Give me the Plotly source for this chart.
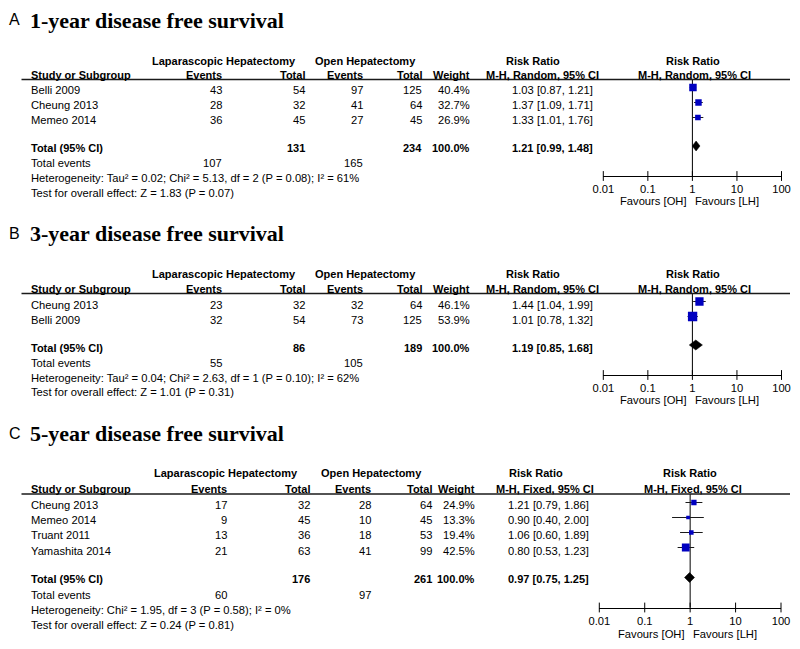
import plotly.graph_objects as go

# ---------------- DATA ----------------
# Panel A : 1-year disease free survival (M-H, Random)
A_STUDY = ["Belli 2009", "Cheung 2013", "Memeo 2014"]
A_LH_EVENTS = [43, 28, 36]
A_LH_TOTAL = [54, 32, 45]
A_OH_EVENTS = [97, 41, 27]
A_OH_TOTAL = [125, 64, 45]
A_WEIGHT = [40.4, 32.7, 26.9]
A_RR = [1.03, 1.37, 1.33]
A_LO = [0.87, 1.09, 1.01]
A_HI = [1.21, 1.71, 1.76]
A_POOLED = [1.21, 0.99, 1.48]
A_SUM_TOTAL = [131, 234]
A_SUM_EVENTS = [107, 165]
A_HET = "Heterogeneity: Tau² = 0.02; Chi² = 5.13, df = 2 (P = 0.08); I² = 61%"
A_TEST = "Test for overall effect: Z = 1.83 (P = 0.07)"

# Panel B : 3-year disease free survival (M-H, Random)
B_STUDY = ["Cheung 2013", "Belli 2009"]
B_LH_EVENTS = [23, 32]
B_LH_TOTAL = [32, 54]
B_OH_EVENTS = [32, 73]
B_OH_TOTAL = [64, 125]
B_WEIGHT = [46.1, 53.9]
B_RR = [1.44, 1.01]
B_LO = [1.04, 0.78]
B_HI = [1.99, 1.32]
B_POOLED = [1.19, 0.85, 1.68]
B_SUM_TOTAL = [86, 189]
B_SUM_EVENTS = [55, 105]
B_HET = "Heterogeneity: Tau² = 0.04; Chi² = 2.63, df = 1 (P = 0.10); I² = 62%"
B_TEST = "Test for overall effect: Z = 1.01 (P = 0.31)"

# Panel C : 5-year disease free survival (M-H, Fixed)
C_STUDY = ["Cheung 2013", "Memeo 2014", "Truant 2011", "Yamashita 2014"]
C_LH_EVENTS = [17, 9, 13, 21]
C_LH_TOTAL = [32, 45, 36, 63]
C_OH_EVENTS = [28, 10, 18, 41]
C_OH_TOTAL = [64, 45, 53, 99]
C_WEIGHT = [24.9, 13.3, 19.4, 42.5]
C_RR = [1.21, 0.90, 1.06, 0.80]
C_LO = [0.79, 0.40, 0.60, 0.53]
C_HI = [1.86, 2.00, 1.89, 1.23]
C_POOLED = [0.97, 0.75, 1.25]
C_SUM_TOTAL = [176, 261]
C_SUM_EVENTS = [60, 97]
C_HET = "Heterogeneity: Chi² = 1.95, df = 3 (P = 0.58); I² = 0%"
C_TEST = "Test for overall effect: Z = 0.24 (P = 0.81)"

LETTERS = ["A", "B", "C"]
TITLES = ["1-year disease free survival", "3-year disease free survival", "5-year disease free survival"]
METHODS = ["M-H, Random, 95% CI", "M-H, Random, 95% CI", "M-H, Fixed, 95% CI"]
TOTAL_WEIGHT = "100.0%"
TICK_VALS = [0.01, 0.1, 1, 10, 100]
TICK_TEXT = ["0.01", "0.1", "1", "10", "100"]
NULL_EFFECT = 1
FAVOURS = ["Favours [OH]", "Favours [LH]"]

# ---------------- LAYOUT HELPERS ----------------
W, H = 800, 649
OFF_X, OFF_Y = 8, 8          # page offset of the plot div
SANS = "Liberation Sans, Arial, sans-serif"
SERIF = "Liberation Serif, Times New Roman, serif"
BLUE = "#0000c0"
INK = "#000000"
FS = 11.2    # regular text size
FB = 11      # bold text size


def px(x):
    return (x - OFF_X) / W


def py(y):
    return 1 - (y - OFF_Y) / H


annotations = []
shapes = []


def txt(x, y, s, anchor="left", bold=False, size=None, family=SANS):
    if size is None:
        size = FB if bold else FS
    annotations.append(dict(
        x=px(x), y=py(y), xref="paper", yref="paper",
        text=f"<b>{s}</b>" if bold else s, showarrow=False,
        xanchor=anchor, yanchor="middle", borderpad=0,
        font=dict(size=size, family=family, color=INK)))


panels = [
    dict(study=A_STUDY, lhe=A_LH_EVENTS, lht=A_LH_TOTAL, ohe=A_OH_EVENTS, oht=A_OH_TOTAL,
         w=A_WEIGHT, rr=A_RR, lo=A_LO, hi=A_HI, pooled=A_POOLED, st=A_SUM_TOTAL,
         se=A_SUM_EVENTS, het=A_HET, test=A_TEST,
         letter_y=19.5, title_y=20.3, h1=60.5, h2=75, line=79.5, row0=90, step=15, total=148,
         tev=163.5, hety=178.5, testy=193, m0=87.5, gap=1.9, axis=176, fav=201,
         cols=dict(lhe=222.7, lht=305.7, ohe=364, oht=423, w=470.5, rr=594,
                   lap=224, open=365.5, rrh=533, mh=542, frr=692.5, fmh=694.5),
         fx=(603.3, 781.5)),
    dict(study=B_STUDY, lhe=B_LH_EVENTS, lht=B_LH_TOTAL, ohe=B_OH_EVENTS, oht=B_OH_TOTAL,
         w=B_WEIGHT, rr=B_RR, lo=B_LO, hi=B_HI, pooled=B_POOLED, st=B_SUM_TOTAL,
         se=B_SUM_EVENTS, het=B_HET, test=B_TEST,
         letter_y=233.5, title_y=233.8, h1=273.5, h2=289, line=293.5, row0=304.5, step=15,
         total=347.5, tev=363, hety=378, testy=392.5, m0=301.5, gap=1.9, axis=375, fav=399.5,
         cols=dict(lhe=222.7, lht=305.7, ohe=364, oht=423, w=470.5, rr=594,
                   lap=224, open=365.5, rrh=533, mh=542, frr=692.5, fmh=694.5),
         fx=(603.3, 781.5)),
    dict(study=C_STUDY, lhe=C_LH_EVENTS, lht=C_LH_TOTAL, ohe=C_OH_EVENTS, oht=C_OH_TOTAL,
         w=C_WEIGHT, rr=C_RR, lo=C_LO, hi=C_HI, pooled=C_POOLED, st=C_SUM_TOTAL,
         se=C_SUM_EVENTS, het=C_HET, test=C_TEST,
         letter_y=433.5, title_y=433.8, h1=473, h2=488.5, line=494, row0=505, step=15.2,
         total=579, tev=595, hety=610, testy=625, m0=502.5, gap=2.0, axis=607.5, fav=634,
         cols=dict(lhe=227.7, lht=310.7, ohe=372, oht=433, w=475.5, rr=590,
                   lap=226, open=371.7, rrh=536, mh=545, frr=690, fmh=693),
         fx=(599.3, 781)),
]

fig = go.Figure()
layout_axes = {}

for k, p in enumerate(panels):
    n = len(p["study"])
    c = p["cols"]
    xr = "x" if k == 0 else f"x{k + 1}"
    yr = "y" if k == 0 else f"y{k + 1}"
    xname = "xaxis" if k == 0 else f"xaxis{k + 1}"
    yname = "yaxis" if k == 0 else f"yaxis{k + 1}"

    # ---- titles ----
    txt(8, p["letter_y"], LETTERS[k], size=16)
    txt(29, p["title_y"], TITLES[k], bold=True, size=22, family=SERIF)

    # ---- header rows ----
    txt(c["lap"], p["h1"], "Laparascopic Hepatectomy", anchor="center", bold=True)
    txt(c["open"], p["h1"], "Open Hepatectomy", anchor="center", bold=True)
    txt(c["rrh"], p["h1"], "Risk Ratio", anchor="center", bold=True)
    txt(c["frr"], p["h1"], "Risk Ratio", anchor="center", bold=True)
    txt(30, p["h2"], "Study or Subgroup", bold=True)
    txt(c["lhe"], p["h2"], "Events", anchor="right", bold=True)
    txt(c["lht"], p["h2"], "Total", anchor="right", bold=True)
    txt(c["ohe"], p["h2"], "Events", anchor="right", bold=True)
    txt(c["oht"], p["h2"], "Total", anchor="right", bold=True)
    txt(c["w"], p["h2"], "Weight", anchor="right", bold=True)
    txt(c["mh"], p["h2"], METHODS[k], anchor="center", bold=True)
    txt(c["fmh"], p["h2"], METHODS[k], anchor="center", bold=True)
    shapes.append(dict(type="line", xref="paper", yref="paper",
                       x0=px(21.5), x1=px(790), y0=py(p["line"]), y1=py(p["line"]),
                       line=dict(color="#1a1a1a", width=1.3)))

    # ---- study rows ----
    for i in range(n):
        y = p["row0"] + p["step"] * i
        txt(30, y, p["study"][i])
        txt(c["lhe"], y, str(p["lhe"][i]), anchor="right")
        txt(c["lht"], y, str(p["lht"][i]), anchor="right")
        txt(c["ohe"], y, str(p["ohe"][i]), anchor="right")
        txt(c["oht"], y, str(p["oht"][i]), anchor="right")
        txt(c["w"], y, f"{p['w'][i]:.1f}%", anchor="right")
        txt(c["rr"], y, f"{p['rr'][i]:.2f} [{p['lo'][i]:.2f}, {p['hi'][i]:.2f}]", anchor="right")

    # ---- totals ----
    est, plo, phi = p["pooled"]
    txt(30, p["total"], "Total (95% CI)", bold=True)
    txt(c["lht"], p["total"], str(p["st"][0]), anchor="right", bold=True)
    txt(c["oht"], p["total"], str(p["st"][1]), anchor="right", bold=True)
    txt(c["w"], p["total"], TOTAL_WEIGHT, anchor="right", bold=True)
    txt(c["rr"], p["total"], f"{est:.2f} [{plo:.2f}, {phi:.2f}]", anchor="right", bold=True)
    txt(30, p["tev"], "Total events")
    txt(c["lhe"], p["tev"], str(p["se"][0]), anchor="right")
    txt(c["ohe"], p["tev"], str(p["se"][1]), anchor="right")
    txt(30, p["hety"], p["het"])
    txt(30, p["testy"], p["test"])

    # ---- forest plot ----
    ys = list(range(n))
    ytot = n - 1 + p["gap"]
    mstep = 15.0
    y_top = (p["line"] - p["m0"]) / mstep
    y_bot = (p["axis"] - p["m0"]) / mstep

    ci_x, ci_y = [], []
    for i in range(n):
        ci_x += [p["lo"][i], p["hi"][i], None]
        ci_y += [ys[i], ys[i], None]
    fig.add_trace(go.Scatter(x=ci_x, y=ci_y, mode="lines", xaxis=xr, yaxis=yr,
                             line=dict(color="#1a1a1a", width=1), showlegend=False,
                             hoverinfo="skip"))
    fig.add_trace(go.Scatter(x=p["rr"], y=ys, mode="markers", xaxis=xr, yaxis=yr,
                             marker=dict(symbol="square", color=BLUE, opacity=1,
                                         size=[1.9 + 0.138 * w for w in p["w"]],
                                         line=dict(width=0)),
                             showlegend=False))
    dh = 5.0 / mstep
    fig.add_trace(go.Scatter(x=[plo, est, phi, est, plo], y=[ytot, ytot - dh, ytot, ytot + dh, ytot],
                             mode="lines", fill="toself", fillcolor="black",
                             line=dict(color="black", width=0.5), xaxis=xr, yaxis=yr,
                             showlegend=False))
    fig.add_trace(go.Scatter(x=TICK_VALS, y=[y_bot] * len(TICK_VALS), mode="markers",
                             xaxis=xr, yaxis=yr, cliponaxis=False,
                             marker=dict(symbol="line-ns", size=7,
                                         line=dict(color="black", width=1)),
                             showlegend=False, hoverinfo="skip"))
    shapes.append(dict(type="line", xref=xr, yref=f"{yr} domain", x0=NULL_EFFECT, x1=NULL_EFFECT,
                       y0=0, y1=1, layer="below", line=dict(color="black", width=1)))

    fx0, fx1 = p["fx"]
    layout_axes[xname] = dict(type="log", range=[-2, 2], domain=[px(fx0), px(fx1)], anchor=yr,
                              showline=True, linecolor="black", linewidth=1, showgrid=False,
                              zeroline=False, ticks="", tickvals=TICK_VALS, ticktext=TICK_TEXT,
                              ticklabelstandoff=3, automargin=False,
                              tickfont=dict(size=FS, family=SANS, color=INK),
                              fixedrange=True)
    layout_axes[yname] = dict(domain=[py(p["axis"]), py(p["line"])], range=[y_bot, y_top],
                              anchor=xr, visible=False, fixedrange=True, automargin=False)

    # favours labels
    xnull = fx0 + (fx1 - fx0) * 0.5
    txt(xnull - 4, p["fav"], FAVOURS[0], anchor="right")
    txt(xnull + 1.5, p["fav"], FAVOURS[1], anchor="left")

fig.update_layout(
    width=W, height=H, margin=dict(l=0, r=0, t=0, b=0, autoexpand=False),
    paper_bgcolor="white", plot_bgcolor="white",
    annotations=annotations, shapes=shapes, showlegend=False,
    **layout_axes,
)

fig.write_html("out.html")
